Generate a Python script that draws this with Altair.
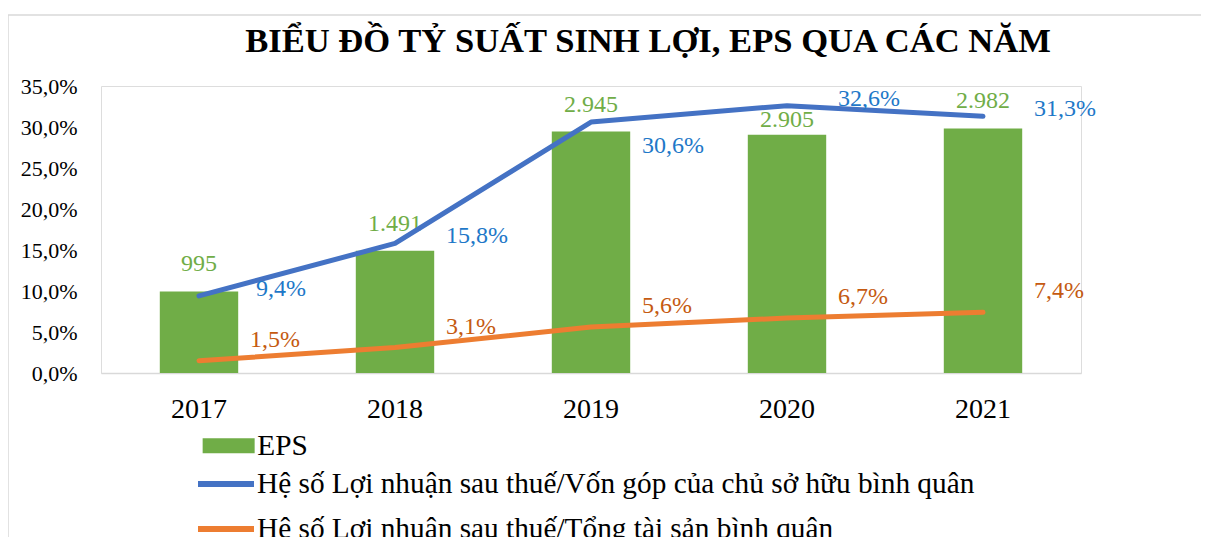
import altair as alt
import pandas as pd

# ---- data ----
years = ["2017", "2018", "2019", "2020", "2021"]
eps = [995, 1491, 2945, 2905, 2982]
roe = [0.094, 0.158, 0.306, 0.326, 0.313]
roa = [0.015, 0.031, 0.056, 0.067, 0.074]
pct_ticks = [0.0, 0.05, 0.10, 0.15, 0.20, 0.25, 0.30, 0.35]

eps_name = "EPS"
roe_name = "Hệ số Lợi nhuận sau thuế/Vốn góp của chủ sở hữu bình quân"
roa_name = "Hệ số Lợi nhuận sau thuế/Tổng tài sản bình quân"
title_text = "BIỂU ĐỒ TỶ SUẤT SINH LỢI, EPS QUA CÁC NĂM"

FONT = "'Liberation Serif', 'Times New Roman', serif"
GREEN = "#70AD47"
BLUE = "#4472C4"
ORANGE = "#ED7D31"
BLUE_TXT = "#1E78C8"
ORANGE_TXT = "#C55A11"
GRAY = "#D9D9D9"

# ---- tables built from the arrays ----
# EPS shares the percent grid (3500 <-> 35%); a label whose slot would sit on the
# blue line is drawn closer to its bar
bar_rows = []
for i, yr in enumerate(years):
    slot = eps[i] / 10000 + 0.033
    bar_rows.append({"year": yr, "eps": eps[i], "series": eps_name,
                     "near": abs(slot - roe[i]) < 0.01})
bar_df = pd.DataFrame(bar_rows)

rows = []
for i, yr in enumerate(years):
    nxt = roe[i + 1] if i + 1 < len(roe) else None
    # label goes below the line where the next segment runs through the label slot
    below = nxt is not None and 0 < nxt - roe[i] < 0.05
    rows.append({"year": yr, "value": roe[i], "series": roe_name, "below": below})
for i, yr in enumerate(years):
    rows.append({"year": yr, "value": roa[i], "series": roa_name, "below": False})
line_df = pd.DataFrame(rows)

frame_df = pd.DataFrame({"k": [0]})

x_enc = alt.X(
    "year:O",
    sort=years,
    scale=alt.Scale(domain=years, paddingInner=0.6, paddingOuter=0.3),
    axis=alt.Axis(
        title=None, labelFont=FONT, labelFontSize=28, labelColor="black",
        labelPadding=22, ticks=False, tickSize=0, domainColor=GRAY,
        domainWidth=1.5, labelAngle=0, grid=False,
    ),
)

y_eps = alt.Y("eps:Q", scale=alt.Scale(domain=[0, 3500], nice=False), axis=None)
y_pct = alt.Y(
    "value:Q",
    scale=alt.Scale(domain=[0, 0.35], nice=False),
    axis=alt.Axis(
        title=None, orient="left", values=pct_ticks,
        labelExpr="replace(format(datum.value, '.1%'), '.', ',')",
        labelFont=FONT, labelFontSize=22, labelColor="black", labelPadding=24,
        ticks=False, domain=False, grid=False,
    ),
)

# ---- chart frame (decoration) ----
frame = alt.Chart(frame_df).mark_rect(filled=False, stroke=GRAY, strokeWidth=1.5).encode(
    x=alt.value(-93), x2=alt.value(1300), y=alt.value(-71), y2=alt.value(700)
)

# ---- EPS bars ----
bar_legend = alt.Legend(
    title=None, orient="none", legendX=100, legendY=345, padding=0,
    symbolType="M-2,-0.577H2V0.577H-2Z", symbolSize=676, symbolStrokeWidth=0,
    symbolOffset=13, labelOffset=14, labelFont=FONT, labelFontSize=29.3,
    labelColor="black", labelLimit=2000,
)
bars = alt.Chart(bar_df).mark_bar().encode(
    x=x_enc,
    y=y_eps,
    color=alt.Color("series:N", scale=alt.Scale(domain=[eps_name], range=[GREEN]), legend=bar_legend),
)
eps_fmt = "replace(format(datum.eps, ','), ',', '.')"
bar_text = alt.Chart(bar_df).transform_filter("!datum.near").transform_calculate(
    lbl=eps_fmt
).mark_text(font=FONT, fontSize=24, color=GREEN, dy=-27, baseline="middle").encode(
    x=x_enc, y=y_eps, text="lbl:N"
)
bar_text_near = alt.Chart(bar_df).transform_filter("datum.near").transform_calculate(
    lbl=eps_fmt
).mark_text(font=FONT, fontSize=24, color=GREEN, dy=-15, baseline="middle").encode(
    x=x_enc, y=y_eps, text="lbl:N"
)
eps_layer = alt.layer(bars, bar_text, bar_text_near)

# ---- ratio lines ----
line_legend = alt.Legend(
    title=None, orient="none", legendX=97, legendY=381, padding=0, rowPadding=12,
    symbolType="M-2,0H2", symbolSize=784, symbolStrokeWidth=6,
    symbolOffset=11, labelOffset=14, labelFont=FONT, labelFontSize=29.3,
    labelColor="black", labelLimit=2000,
)
lines = alt.Chart(line_df).mark_line(strokeWidth=5, strokeCap="round", strokeJoin="round").encode(
    x=x_enc,
    y=y_pct,
    stroke=alt.Stroke("series:N", scale=alt.Scale(domain=[roe_name, roa_name], range=[BLUE, ORANGE]), legend=line_legend),
    detail="series:N",
)

pct_fmt = "replace(format(datum.value, '.1%'), '.', ',')"
roe_above = alt.Chart(line_df).transform_filter(
    alt.datum.series == roe_name
).transform_filter("!datum.below").transform_calculate(lbl=pct_fmt).mark_text(
    font=FONT, fontSize=24, color=BLUE_TXT, dx=82, dy=-7, baseline="middle"
).encode(x=x_enc, y=y_pct, text="lbl:N")
roe_below = alt.Chart(line_df).transform_filter(
    alt.datum.series == roe_name
).transform_filter("datum.below").transform_calculate(lbl=pct_fmt).mark_text(
    font=FONT, fontSize=24, color=BLUE_TXT, dx=82, dy=24, baseline="middle"
).encode(x=x_enc, y=y_pct, text="lbl:N")
roa_text = alt.Chart(line_df).transform_filter(
    alt.datum.series == roa_name
).transform_calculate(lbl=pct_fmt).mark_text(
    font=FONT, fontSize=24, color=ORANGE_TXT, dx=76, dy=-21, baseline="middle"
).encode(x=x_enc, y=y_pct, text="lbl:N")

pct_layer = alt.layer(lines, roe_above, roe_below, roa_text)

chart = alt.layer(frame, eps_layer, pct_layer).resolve_scale(
    y="independent"
).properties(
    width=980,
    height=287,
    autosize=alt.AutoSizeParams(type="none"),
    padding={"left": 93, "top": 78, "right": 120, "bottom": 172},
    title=alt.TitleParams(
        title_text, font=FONT, fontSize=34.6, fontWeight="bold", color="black",
        anchor="middle", frame="group", baseline="alphabetic", offset=0,
        dx=57, dy=72,
    ),
).configure_view(stroke=None).configure(background="white", font=FONT).configure_text(font=FONT)

chart.save("out.html", embed_options={"renderer": "svg", "actions": False})
